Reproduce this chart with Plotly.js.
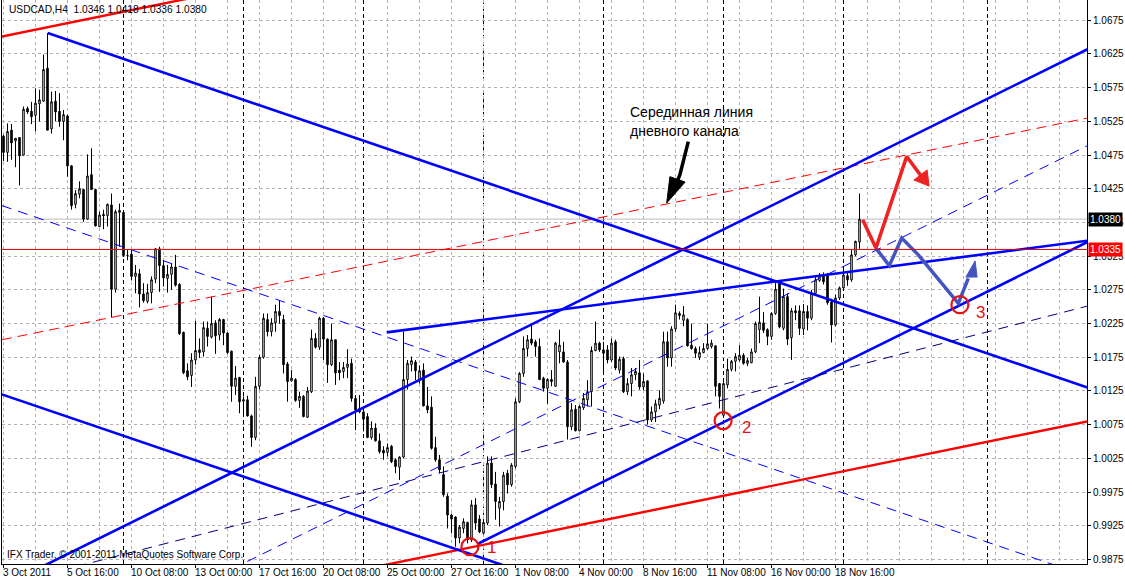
<!DOCTYPE html>
<html><head><meta charset="utf-8">
<script src="https://cdn.plot.ly/plotly-3.0.1.min.js"></script>
<style>html,body{margin:0;padding:0;background:#fff;}#chart{width:1125px;height:580px;}</style>
</head><body><div id="chart"></div>
<script>
// ---- USDCAD H4 bars (3 Oct 2011 00:00 .. 21 Nov 2011 16:00), one value per bar ----
const openP = [
1.0503,1.0479,1.0512,1.0496,1.0501,1.0475,1.0544,1.0540,1.0534,1.0551,
1.0555,1.0604,1.0514,1.0555,1.0540,1.0525,1.0533,1.0459,1.0402,1.0417,
1.0424,1.0380,1.0446,1.0424,1.0369,1.0387,1.0385,1.0401,1.0276,1.0390,
1.0390,1.0326,1.0328,1.0295,1.0299,1.0269,1.0258,1.0271,1.0291,1.0336,
1.0311,1.0292,1.0298,1.0309,1.0283,1.0212,1.0155,1.0148,1.0171,1.0186,
1.0183,1.0218,1.0205,1.0226,1.0208,1.0231,1.0211,1.0184,1.0132,1.0145,
1.0110,1.0112,1.0088,1.0056,1.0132,1.0175,1.0231,1.0213,1.0226,1.0243,
1.0231,1.0165,1.0140,1.0142,1.0111,1.0117,1.0086,1.0124,1.0203,1.0190,
1.0233,1.0202,1.0164,1.0201,1.0156,1.0154,1.0160,1.0166,1.0114,1.0099,
1.0094,1.0087,1.0056,1.0070,1.0051,1.0037,1.0034,1.0043,1.0023,1.0012,
1.0027,1.0142,1.0164,1.0168,1.0141,1.0156,1.0103,1.0101,1.0041,1.0023,
1.0001,0.9969,0.9941,0.9938,0.9907,0.9921,0.9930,0.9904,0.9956,0.9935,
0.9914,0.9929,1.0018,0.9987,0.9951,0.9961,1.0003,0.9986,1.0013,1.0109,
1.0151,1.0188,1.0202,1.0198,1.0191,1.0144,1.0129,1.0142,1.0132,1.0183,
1.0183,1.0168,1.0072,1.0098,1.0066,1.0100,1.0112,1.0124,1.0185,1.0196,
1.0186,1.0186,1.0171,1.0198,1.0156,1.0173,1.0124,1.0136,1.0149,1.0152,
1.0131,1.0140,1.0082,1.0094,1.0104,1.0110,1.0198,1.0174,1.0217,1.0240,
1.0230,1.0231,1.0193,1.0188,1.0175,1.0182,1.0188,1.0191,1.0192,1.0136,
1.0089,1.0134,1.0157,1.0169,1.0171,1.0178,1.0166,1.0167,1.0183,1.0216,
1.0226,1.0216,1.0206,1.0240,1.0285,1.0218,1.0265,1.0204,1.0244,1.0244,
1.0217,1.0243,1.0233,1.0270,1.0289,1.0297,1.0297,1.0257,1.0223,1.0263,
1.0278,1.0296,1.0290,1.0327,1.0346];
const highP = [
1.0505,1.0522,1.0521,1.0500,1.0501,1.0547,1.0547,1.0554,1.0574,1.0572,
1.0624,1.0656,1.0569,1.0570,1.0567,1.0542,1.0535,1.0460,1.0423,1.0436,
1.0425,1.0476,1.0485,1.0425,1.0391,1.0394,1.0403,1.0418,1.0394,1.0403,
1.0392,1.0334,1.0334,1.0312,1.0306,1.0285,1.0284,1.0295,1.0337,1.0339,
1.0319,1.0312,1.0314,1.0327,1.0285,1.0213,1.0166,1.0181,1.0229,1.0203,
1.0228,1.0228,1.0265,1.0230,1.0233,1.0232,1.0212,1.0185,1.0162,1.0146,
1.0117,1.0118,1.0090,1.0146,1.0178,1.0240,1.0240,1.0233,1.0253,1.0260,
1.0238,1.0168,1.0156,1.0144,1.0124,1.0119,1.0131,1.0216,1.0211,1.0235,
1.0235,1.0203,1.0225,1.0201,1.0168,1.0168,1.0187,1.0173,1.0119,1.0119,
1.0097,1.0092,1.0080,1.0077,1.0062,1.0043,1.0047,1.0045,1.0025,1.0028,
1.0213,1.0171,1.0176,1.0171,1.0163,1.0166,1.0131,1.0117,1.0057,1.0030,
1.0013,0.9973,0.9943,0.9939,0.9926,0.9936,0.9931,0.9963,0.9966,0.9941,
0.9932,1.0028,1.0028,1.0005,0.9968,1.0005,1.0008,1.0018,1.0114,1.0153,
1.0206,1.0208,1.0225,1.0201,1.0203,1.0146,1.0144,1.0156,1.0198,1.0216,
1.0198,1.0171,1.0107,1.0104,1.0104,1.0122,1.0141,1.0191,1.0228,1.0198,
1.0198,1.0193,1.0203,1.0201,1.0176,1.0176,1.0144,1.0159,1.0159,1.0171,
1.0151,1.0141,1.0102,1.0112,1.0126,1.0213,1.0213,1.0221,1.0253,1.0243,
1.0251,1.0233,1.0225,1.0191,1.0191,1.0196,1.0225,1.0201,1.0193,1.0137,
1.0138,1.0173,1.0171,1.0181,1.0193,1.0181,1.0174,1.0188,1.0228,1.0265,
1.0242,1.0218,1.0242,1.0287,1.0287,1.0277,1.0270,1.0248,1.0252,1.0252,
1.0254,1.0252,1.0275,1.0295,1.0300,1.0301,1.0300,1.0262,1.0268,1.0280,
1.0307,1.0300,1.0334,1.0348,1.0418];
const lowP = [
1.0466,1.0465,1.0468,1.0457,1.0430,1.0474,1.0536,1.0521,1.0510,1.0525,
1.0554,1.0512,1.0507,1.0525,1.0517,1.0497,1.0443,1.0394,1.0396,1.0411,
1.0376,1.0379,1.0423,1.0369,1.0368,1.0365,1.0369,1.0234,1.0271,1.0339,
1.0324,1.0319,1.0289,1.0270,1.0249,1.0256,1.0255,1.0255,1.0285,1.0272,
1.0280,1.0271,1.0275,1.0280,1.0208,1.0150,1.0141,1.0131,1.0164,1.0174,
1.0176,1.0191,1.0203,1.0180,1.0200,1.0193,1.0180,1.0109,1.0119,1.0092,
1.0087,1.0087,1.0042,1.0052,1.0127,1.0173,1.0206,1.0206,1.0213,1.0225,
1.0151,1.0109,1.0139,1.0109,1.0100,1.0086,1.0085,1.0122,1.0188,1.0186,
1.0171,1.0137,1.0162,1.0134,1.0141,1.0144,1.0144,1.0109,1.0067,1.0092,
1.0065,1.0055,1.0053,1.0050,1.0032,1.0023,1.0028,1.0018,1.0003,0.9993,
1.0025,1.0127,1.0154,1.0141,1.0136,1.0102,1.0092,1.0038,1.0020,1.0003,
0.9968,0.9921,0.9914,0.9894,0.9899,0.9914,0.9899,0.9901,0.9919,0.9914,
0.9912,0.9926,0.9981,0.9934,0.9924,0.9948,0.9973,0.9983,1.0010,1.0107,
1.0146,1.0176,1.0193,1.0176,1.0141,1.0124,1.0106,1.0132,1.0131,1.0166,
1.0167,1.0053,1.0067,1.0065,1.0065,1.0097,1.0102,1.0102,1.0184,1.0183,
1.0154,1.0166,1.0168,1.0156,1.0151,1.0122,1.0119,1.0117,1.0141,1.0127,
1.0126,1.0075,1.0079,1.0079,1.0098,1.0106,1.0161,1.0161,1.0213,1.0231,
1.0221,1.0191,1.0186,1.0174,1.0171,1.0181,1.0186,1.0188,1.0117,1.0099,
1.0085,1.0129,1.0154,1.0154,1.0169,1.0164,1.0162,1.0166,1.0181,1.0196,
1.0211,1.0193,1.0201,1.0238,1.0218,1.0215,1.0193,1.0171,1.0230,1.0208,
1.0208,1.0215,1.0230,1.0267,1.0287,1.0283,1.0253,1.0197,1.0221,1.0260,
1.0275,1.0281,1.0287,1.0325,1.0336];
const closeP = [
1.0479,1.0510,1.0493,1.0500,1.0474,1.0543,1.0539,1.0532,1.0552,1.0557,
1.0602,1.0512,1.0554,1.0539,1.0525,1.0535,1.0459,1.0400,1.0418,1.0425,
1.0380,1.0444,1.0424,1.0370,1.0386,1.0385,1.0402,1.0276,1.0391,1.0393,
1.0326,1.0326,1.0295,1.0300,1.0269,1.0259,1.0271,1.0290,1.0336,1.0311,
1.0293,1.0298,1.0309,1.0282,1.0210,1.0152,1.0146,1.0171,1.0185,1.0182,
1.0219,1.0206,1.0225,1.0207,1.0231,1.0211,1.0182,1.0132,1.0144,1.0109,
1.0112,1.0088,1.0056,1.0132,1.0175,1.0233,1.0213,1.0226,1.0243,1.0237,
1.0164,1.0139,1.0144,1.0111,1.0117,1.0087,1.0125,1.0203,1.0190,1.0233,
1.0202,1.0164,1.0201,1.0152,1.0152,1.0160,1.0165,1.0114,1.0097,1.0094,
1.0083,1.0056,1.0070,1.0051,1.0035,1.0033,1.0041,1.0020,1.0013,1.0027,
1.0142,1.0166,1.0170,1.0155,1.0155,1.0103,1.0097,1.0040,1.0023,1.0008,
0.9971,0.9941,0.9935,0.9907,0.9923,0.9931,0.9904,0.9956,0.9929,0.9916,
0.9930,1.0018,0.9986,0.9961,0.9961,1.0000,0.9986,1.0015,1.0109,1.0151,
1.0188,1.0201,1.0196,1.0191,1.0142,1.0129,1.0142,1.0139,1.0196,1.0193,
1.0168,1.0072,1.0097,1.0066,1.0102,1.0114,1.0124,1.0185,1.0196,1.0186,
1.0181,1.0171,1.0196,1.0159,1.0172,1.0124,1.0136,1.0149,1.0154,1.0131,
1.0139,1.0082,1.0094,1.0106,1.0114,1.0198,1.0174,1.0217,1.0241,1.0237,
1.0238,1.0192,1.0188,1.0181,1.0182,1.0188,1.0195,1.0196,1.0132,1.0117,
1.0136,1.0157,1.0169,1.0176,1.0178,1.0166,1.0170,1.0183,1.0225,1.0227,
1.0215,1.0206,1.0240,1.0276,1.0220,1.0265,1.0202,1.0244,1.0241,1.0218,
1.0243,1.0233,1.0270,1.0290,1.0296,1.0287,1.0256,1.0223,1.0263,1.0278,
1.0297,1.0290,1.0327,1.0347,1.0380];

// time axis labels (bar index -> label)
const labelBars = [0,16,32,48,64,80,96,112,128,144,160,176,192,208];
const timeLabels = ['3 Oct 2011','5 Oct 16:00','10 Oct 08:00','13 Oct 00:00','17 Oct 16:00','20 Oct 08:00',
  '25 Oct 00:00','27 Oct 16:00','1 Nov 08:00','4 Nov 00:00','8 Nov 16:00','11 Nov 08:00','16 Nov 00:00','18 Nov 16:00'];
const weekStartBars = [30,60,90,120,150,180,210,246];
const priceTicks = [0.9875,0.9925,0.9975,1.0025,1.0075,1.0125,1.0175,1.0225,1.0275,1.0325,1.0375,1.0425,1.0475,1.0525,1.0575,1.0625,1.0675];
const levelPrice = 1.0335;

// ---- trend lines: anchor points (bar index, price) ----
const redUpperX = [-0.4, 60],     redUpperY = [1.0651, 1.0724];
const redMidX   = [-0.4, 271],    redMidY   = [1.0201, 1.0530];
const redLowX   = [88, 271],      redLowY   = [0.9858, 1.0080];
const bDownAX   = [11.05, 271],   bDownAY   = [1.0656, 1.0130];
const bDownBX   = [-0.4, 140],    bDownBY   = [1.0120, 0.9836];
const bDownMX   = [-0.4, 271],    bDownMY   = [1.0400, 0.9850];
const bUpAX     = [0, 271],       bUpAY     = [0.9836, 1.0632];
const bUpBX     = [118.5, 271],   bUpBY     = [0.9898, 1.0346];
const bUpMX     = [0, 271],       bUpMY     = [0.9693, 1.0489];
const bFlatX    = [95.8, 271],    bFlatY    = [1.0212, 1.0348];
const navyX     = [10, 271],      navyY     = [0.9852, 1.0251];

// hand-drawn forecast paths
const redPathX = [214.8, 218.1, 225.8, 230.4],        redPathY = [1.0379, 1.0337, 1.0473, 1.0436];
const redHeadX = [227.6, 230.9, 231.4, 227.6],        redHeadY = [1.0438, 1.0453, 1.0429, 1.0438];
const bluePathX = [218.1, 221.45, 224.55, 228.7, 238.7, 241.2], bluePathY = [1.0337, 1.0311, 1.0352, 1.0327, 1.0255, 1.0292];
const blueHeadX = [240.6, 242.9, 243.4, 240.6],       blueHeadY = [1.0294, 1.0318, 1.0294, 1.0294];
const blkPathX = [171.2, 170.1, 169.1, 168.1],        blkPathY = [1.0495, 1.0471, 1.0446, 1.0431];
const blkHeadX = [166.6, 170.4, 165.8, 166.6],        blkHeadY = [1.0443, 1.0435, 1.0404, 1.0443];
const markX = [116.6, 179.9, 239.1], markY = [0.9894, 1.0081, 1.0253], markText = ['1','2','3'];

const bars = openP.map((_, i) => i);
const n = closeP.length;
const FONT = 'Liberation Sans, Arial, sans-serif';

function line(x, y, color, width, dash) {
  return {type:'scatter', mode:'lines', x:x, y:y, hoverinfo:'skip',
          line:{color:color, width:width, dash:dash || 'solid'}};
}
function poly(x, y, color) {
  return {type:'scatter', mode:'lines', x:x, y:y, fill:'toself', fillcolor:color,
          hoverinfo:'skip', line:{color:color, width:1}};
}

const traces = [
  {type:'candlestick', x:bars, open:openP, high:highP, low:lowP, close:closeP, hoverinfo:'skip',
   increasing:{line:{color:'#000', width:1}, fillcolor:'#fff'},
   decreasing:{line:{color:'#000', width:1}, fillcolor:'#000'}, whiskerwidth:0},
  line(redUpperX, redUpperY, '#FF0000', 2.4),
  line(redMidX, redMidY, '#FF0000', 1, '10px,6px'),
  line(redLowX, redLowY, '#FF0000', 2.4),
  line(bDownAX, bDownAY, '#0000FF', 2.6),
  line(bDownBX, bDownBY, '#0000FF', 2.6),
  line(bDownMX, bDownMY, '#0000FF', 1, '10px,7px'),
  line(bUpAX, bUpAY, '#0000FF', 2.6),
  line(bUpBX, bUpBY, '#0000FF', 2.6),
  line(bUpMX, bUpMY, '#0000FF', 1, '10px,7px'),
  line(bFlatX, bFlatY, '#0000FF', 2.6),
  line(navyX, navyY, '#000080', 1, '10px,7px'),
  line(redPathX, redPathY, '#EE2222', 3.5),
  poly(redHeadX, redHeadY, '#EE2222'),
  line(bluePathX, bluePathY, '#4455C0', 3.5),
  poly(blueHeadX, blueHeadY, '#4455C0'),
  line(blkPathX, blkPathY, '#000', 3.5),
  poly(blkHeadX, blkHeadY, '#000'),
  {type:'scatter', mode:'markers', x:markX, y:markY, hoverinfo:'skip',
   marker:{symbol:'circle-open', size:17, color:'#E81010', line:{width:2.2, color:'#E81010'}}}
];

const shapes = weekStartBars.map(b => ({type:'line', xref:'x', yref:'paper', x0:b, x1:b, y0:0, y1:1,
  layer:'below', line:{color:'#000', width:1, dash:'4px,3px'}}));
shapes.push({type:'line', xref:'paper', yref:'y', x0:0, x1:1, y0:closeP[n-1], y1:closeP[n-1],
  layer:'below', line:{color:'#BBBBBB', width:1}});
shapes.push({type:'line', xref:'paper', yref:'y', x0:0, x1:1, y0:levelPrice, y1:levelPrice,
  layer:'above', line:{color:'#E00000', width:1}});

const hdr = 'USDCAD,H4 &nbsp;' + [openP[n-1], highP[n-1], lowP[n-1], closeP[n-1]].map(v => v.toFixed(4)).join(' ');
const annotations = [
  {xref:'paper', yref:'paper', x:0.0046, y:0.9823, xanchor:'left', yanchor:'middle', showarrow:false,
   text:hdr, font:{family:FONT, size:10.2, color:'#000'}},
  {xref:'paper', yref:'paper', x:0.003, y:0.0175, xanchor:'left', yanchor:'middle', showarrow:false,
   text:'IFX Trader, © 2001-2011 MetaQuotes Software Corp.', font:{family:FONT, size:10, color:'#000'}},
  {xref:'x', yref:'y', x:156.1, y:1.0539, xanchor:'left', yanchor:'middle', showarrow:false,
   text:'Серединная линия', font:{family:FONT, size:14, color:'#000'}},
  {xref:'x', yref:'y', x:156.1, y:1.0511, xanchor:'left', yanchor:'middle', showarrow:false,
   text:'дневного канала', font:{family:FONT, size:14, color:'#000'}},
  {xref:'paper', yref:'y', x:1, y:closeP[n-1], xanchor:'left', yanchor:'middle', xshift:1, showarrow:false,
   text:closeP[n-1].toFixed(4), bgcolor:'#000', borderpad:1, font:{family:FONT, size:10, color:'#fff'}},
  {xref:'paper', yref:'y', x:1, y:levelPrice, xanchor:'left', yanchor:'middle', xshift:1, showarrow:false,
   text:levelPrice.toFixed(4), bgcolor:'#FF0000', borderpad:1, font:{family:FONT, size:10, color:'#fff'}}
];
// time labels, left-aligned at their bar like the terminal draws them
labelBars.forEach((b, k) => annotations.push({xref:'x', yref:'paper', x:b, y:0, xanchor:'left', yanchor:'top',
  xshift:-3, yshift:-1, showarrow:false, text:timeLabels[k], font:{family:FONT, size:10, color:'#000'}}));
const shiftsX = [22, 23, 21], shiftsY = [-1, -7, -8];
markText.forEach((t, k) => annotations.push({xref:'x', yref:'y', x:markX[k], y:markY[k], xshift:shiftsX[k], yshift:shiftsY[k],
  showarrow:false, text:t, font:{family:FONT, size:17, color:'#E81010'}}));

const gridStyle = {gridcolor:'#B8B0B8', griddash:'3px,3px', gridwidth:1};
const layout = {
  width:1125, height:580, paper_bgcolor:'#fff', plot_bgcolor:'#fff',
  margin:{l:2, r:38, t:0, b:16}, showlegend:false, hovermode:false, boxgap:0.45,
  font:{family:FONT, size:10, color:'#000'},
  xaxis:Object.assign({type:'linear', range:[-0.375, 270.875], rangeslider:{visible:false},
    tickmode:'array', tickvals:labelBars, ticktext:timeLabels, showticklabels:false, ticks:'outside', ticklen:3, tickcolor:'#000',
    showgrid:true, zeroline:false, showline:true, linecolor:'#000', linewidth:1, mirror:false,
    minor:{tickmode:'linear', tick0:0, dtick:8, showgrid:true, gridcolor:'#B8B0B8', griddash:'3px,3px', ticks:''}}, gridStyle),
  yaxis:Object.assign({side:'right', range:[0.98683, 1.07051], tickmode:'array', tickvals:priceTicks,
    ticktext:priceTicks.map(v => v.toFixed(4)), ticks:'outside', ticklen:3, tickcolor:'#000',
    showgrid:true, zeroline:false, showline:true, linecolor:'#000', linewidth:1, mirror:true,
    tickfont:{family:FONT, size:10, color:'#000'}}, gridStyle),
  shapes:shapes, annotations:annotations
};
Plotly.newPlot('chart', traces, layout, {staticPlot:true, displayModeBar:false});
</script></body></html>
